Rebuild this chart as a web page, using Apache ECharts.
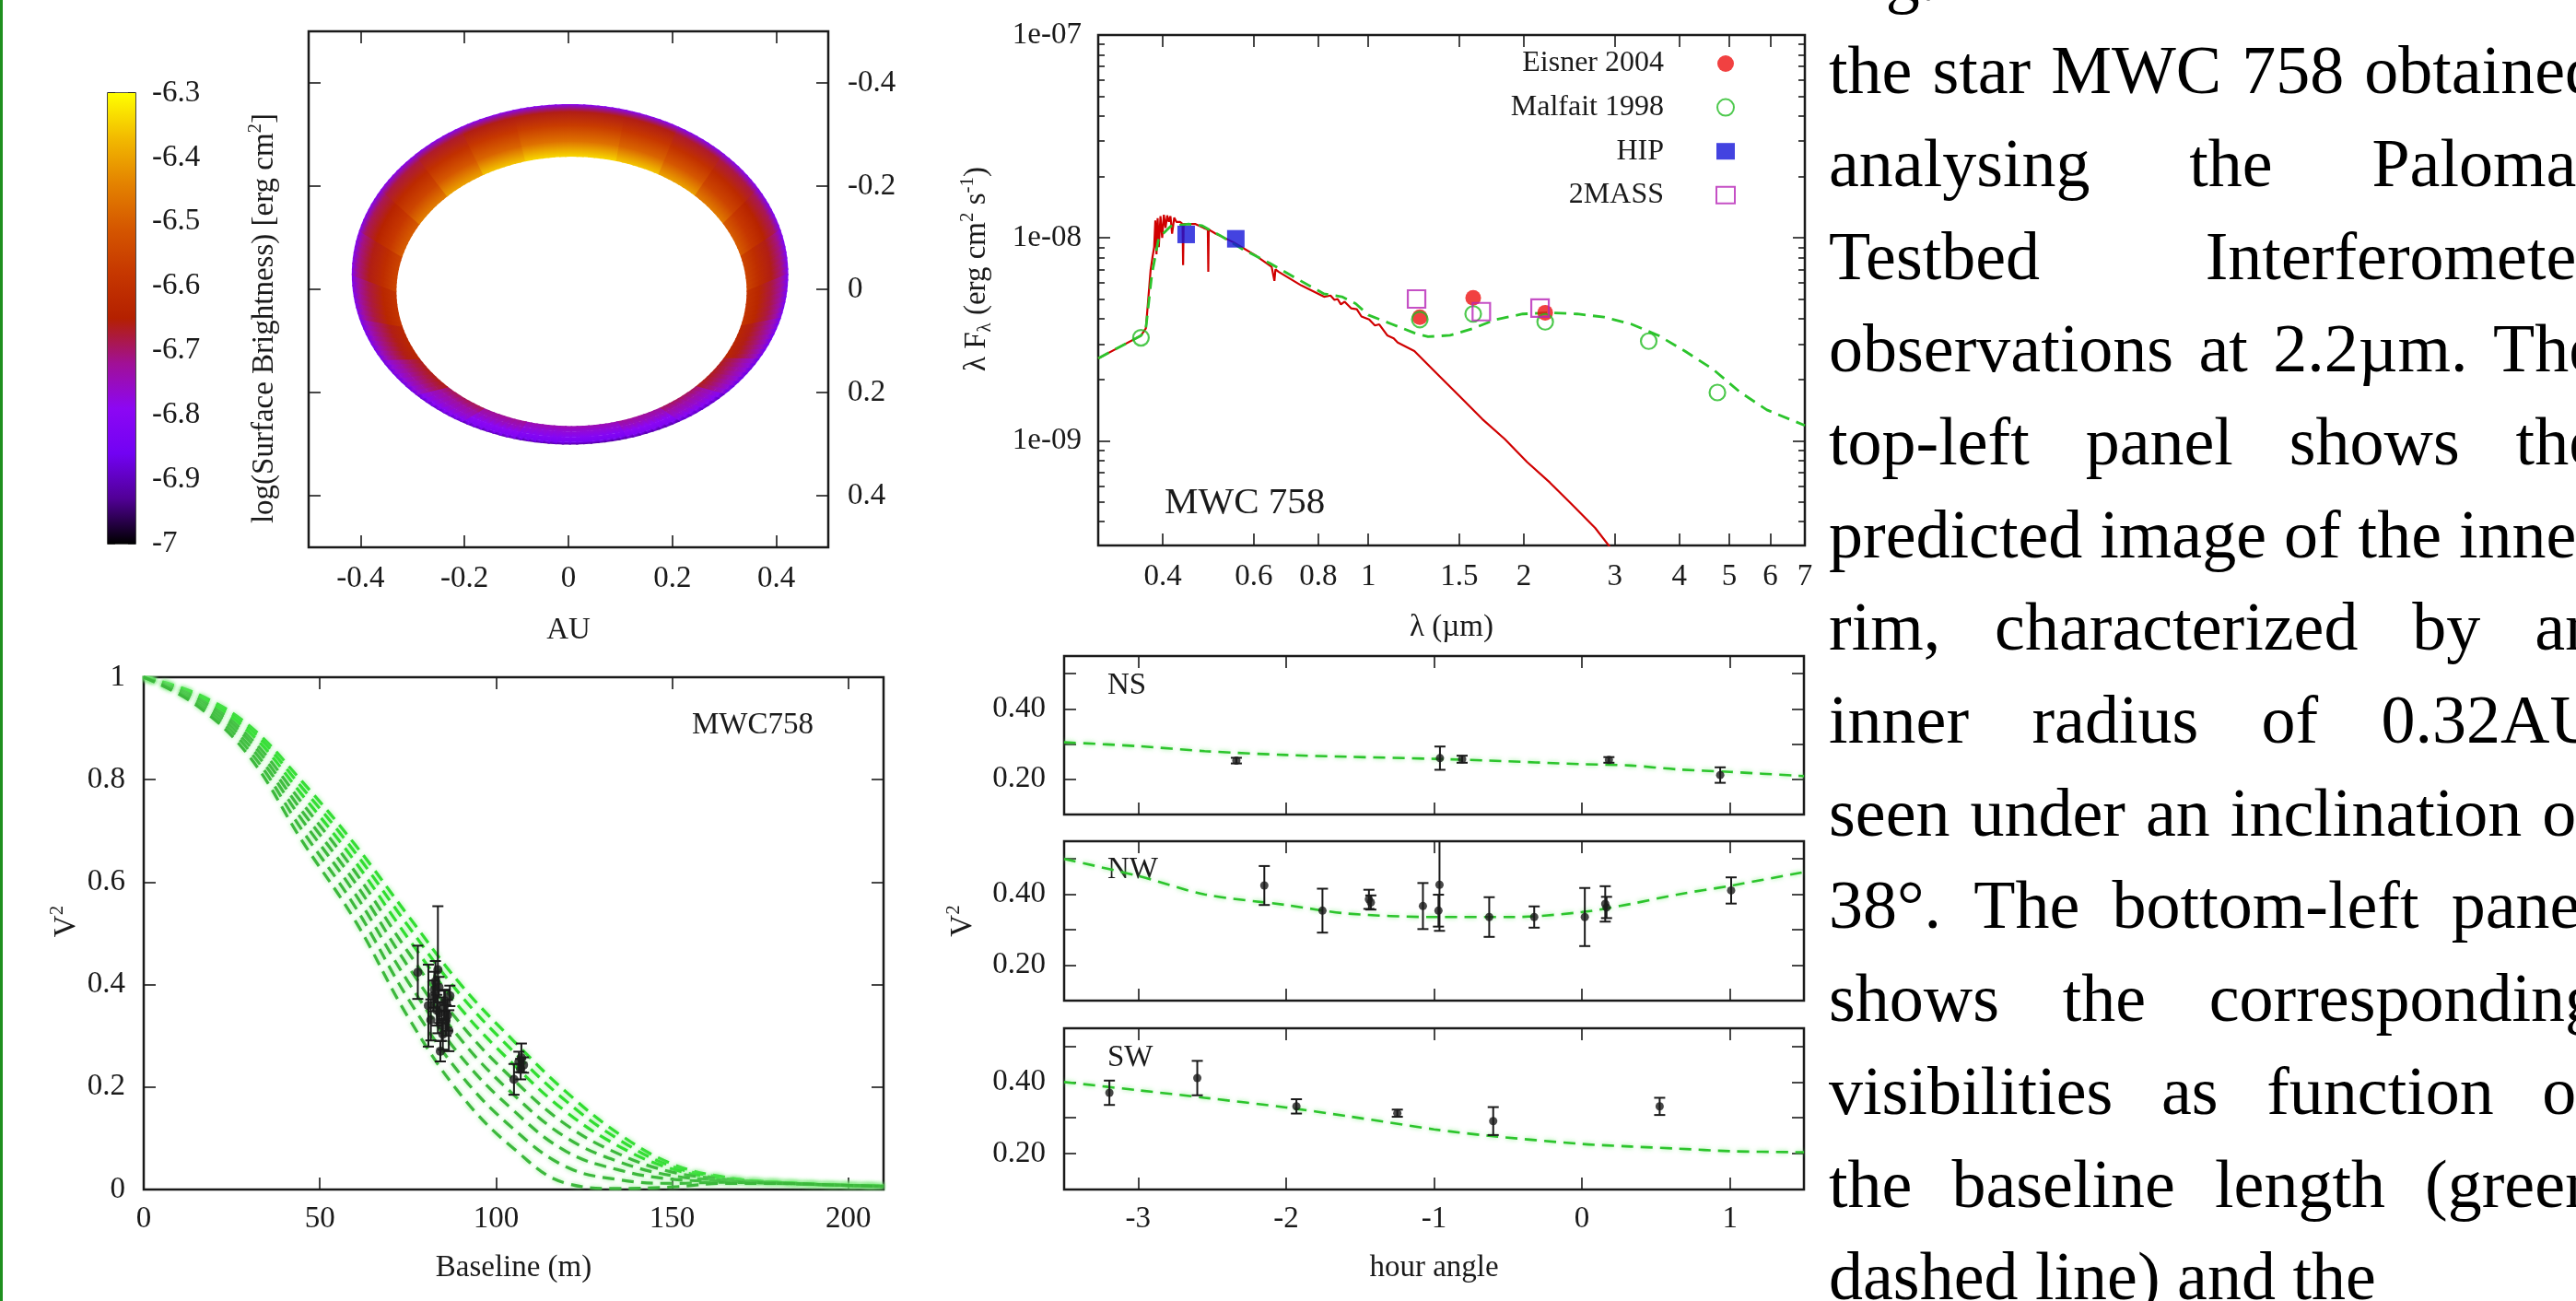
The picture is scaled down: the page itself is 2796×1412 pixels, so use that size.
<!DOCTYPE html>
<html>
<head>
<meta charset="utf-8">
<title>MWC 758 inner rim model</title>
<script src="https://cdn.jsdelivr.net/npm/echarts@6.0.0/dist/echarts.min.js"></script>
<style>
  html, body { margin: 0; padding: 0; background: #fff; }
  #chart { width: 2796px; height: 1412px; }
</style>
</head>
<body>
<div id="chart"></div>
<script>
// ---------- top-left: model image of the rim, log(surface brightness)
// sectors of 15 deg, azimuth from the top of the image, clockwise;
// five values per sector, from the inner edge (node 0) to the outer edge (node 4)
const ringPhi = [0, 15, 30, 45, 60, 75, 90, 105, 120, 135, 150, 165,
                 180, 195, 210, 225, 240, 255, 270, 285, 300, 315, 330, 345];
const ringNode0 = [-6.34, -6.36, -6.40, -6.45, -6.50, -6.55, -6.59, -6.63, -6.66, -6.69, -6.72, -6.74,
                   -6.74, -6.72, -6.69, -6.66, -6.63, -6.59, -6.55, -6.50, -6.45, -6.40, -6.36, -6.34];
const ringNode1 = [-6.47, -6.49, -6.51, -6.55, -6.58, -6.61, -6.63, -6.66, -6.69, -6.73, -6.75, -6.77,
                   -6.77, -6.75, -6.73, -6.69, -6.66, -6.63, -6.61, -6.58, -6.55, -6.51, -6.49, -6.47];
const ringNode2 = [-6.57, -6.58, -6.60, -6.62, -6.64, -6.66, -6.68, -6.70, -6.73, -6.76, -6.79, -6.81,
                   -6.81, -6.79, -6.76, -6.73, -6.70, -6.68, -6.66, -6.64, -6.62, -6.60, -6.58, -6.57];
const ringNode3 = [-6.66, -6.66, -6.67, -6.68, -6.69, -6.71, -6.73, -6.75, -6.77, -6.80, -6.82, -6.84,
                   -6.84, -6.82, -6.80, -6.77, -6.75, -6.73, -6.71, -6.69, -6.68, -6.67, -6.66, -6.66];
const ringNode4 = [-6.80, -6.80, -6.81, -6.81, -6.82, -6.82, -6.83, -6.85, -6.87, -6.89, -6.91, -6.92,
                   -6.92, -6.91, -6.89, -6.87, -6.85, -6.83, -6.82, -6.82, -6.81, -6.81, -6.80, -6.80];
const ringTicks = [-0.4, -0.2, 0, 0.2, 0.4];
const cbTicks = [-7, -6.9, -6.8, -6.7, -6.6, -6.5, -6.4, -6.3];

// ---------- top-right: SED
const starLam = [0.30, 0.33, 0.363, 0.371, 0.375, 0.379, 0.382, 0.385, 0.387, 0.389, 0.391, 0.393,
  0.396, 0.399, 0.402, 0.405, 0.408, 0.411, 0.414, 0.417, 0.421, 0.425, 0.432, 0.437, 0.438, 0.439,
  0.45, 0.463, 0.48, 0.489, 0.49, 0.491, 0.506, 0.549, 0.607, 0.65, 0.658, 0.661, 0.671, 0.742,
  0.821, 0.845, 0.86, 0.872, 0.885, 0.9, 0.926, 0.95, 0.97, 1.004, 1.03, 1.05, 1.088, 1.12, 1.14,
  1.228, 1.359, 1.502, 1.662, 1.837, 2.03, 2.246, 2.486, 2.749, 2.95];
const starFlux = [2.55e-9, 2.9e-9, 3.3e-9, 3.58e-9, 5.0e-9, 6.98e-9, 8.0e-9, 9.0e-9, 1.22e-8, 8.3e-9, 1.25e-8, 9.0e-9,
  1.28e-8, 1.0e-8, 1.3e-8, 1.12e-8, 1.29e-8, 1.2e-8, 1.28e-8, 1.05e-8, 1.26e-8, 1.2e-8, 1.2e-8, 1.17e-8, 7.35e-9, 1.17e-8,
  1.17e-8, 1.17e-8, 1.12e-8, 1.1e-8, 6.8e-9, 1.1e-8, 1.05e-8, 9.5e-9, 8.15e-9, 7.2e-9, 6.14e-9, 7.0e-9, 6.8e-9, 5.83e-9,
  5.13e-9, 5.2e-9, 4.95e-9, 5.0e-9, 4.7e-9, 4.85e-9, 4.5e-9, 4.45e-9, 4.1e-9, 3.96e-9, 3.7e-9, 3.75e-9, 3.31e-9, 3.2e-9, 3.05e-9,
  2.77e-9, 2.14e-9, 1.66e-9, 1.28e-9, 1.02e-9, 7.86e-10, 6.23e-10, 4.82e-10, 3.72e-10, 2.95e-10];
const modelLam = [0.30, 0.363, 0.371, 0.381, 0.393, 0.414, 0.449, 0.476, 0.516, 0.571, 0.645, 0.727,
  0.821, 0.889, 0.945, 1.0, 1.11, 1.228, 1.305, 1.44, 1.596, 1.764, 1.99, 2.246, 2.536, 2.86, 3.23,
  3.64, 4.1, 4.64, 5.24, 5.91, 7.0];
const modelFlux = [2.55e-9, 3.3e-9, 3.58e-9, 6.6e-9, 1.0e-8, 1.14e-8, 1.17e-8, 1.15e-8, 1.03e-8, 8.8e-9, 7.5e-9, 6.3e-9,
  5.3e-9, 5.13e-9, 4.75e-9, 4.17e-9, 3.76e-9, 3.4e-9, 3.26e-9, 3.31e-9, 3.58e-9, 3.96e-9, 4.22e-9, 4.28e-9, 4.22e-9, 4.07e-9, 3.76e-9,
  3.31e-9, 2.77e-9, 2.26e-9, 1.74e-9, 1.42e-9, 1.19e-9];
const eisnerLam = [1.258, 1.596, 2.2];
const eisnerFlux = [4.07e-9, 5.07e-9, 4.28e-9];
const malfaitLam = [0.363, 1.258, 1.596, 2.2, 3.49, 4.74];
const malfaitFlux = [3.22e-9, 3.96e-9, 4.22e-9, 3.86e-9, 3.1e-9, 1.73e-9];
const hipLam = [0.444, 0.554];
const hipFlux = [1.04e-8, 9.9e-9];
const tmassLam = [1.24, 1.655, 2.15];
const tmassFlux = [5.0e-9, 4.33e-9, 4.51e-9];
const sedXTicks = [0.4, 0.6, 0.8, 1, 1.5, 2, 3, 4, 5, 6, 7];
const sedYMajor = [1e-9, 1e-8, 1e-7];
const sedYMinor = [4e-10, 5e-10, 6e-10, 7e-10, 8e-10, 9e-10, 2e-9, 3e-9, 4e-9, 5e-9, 6e-9, 7e-9, 8e-9, 9e-9,
                   2e-8, 3e-8, 4e-8, 5e-8, 6e-8, 7e-8, 8e-8, 9e-8];

// ---------- bottom-left: V^2 against baseline (model curves, then PTI data)
const visB = [0, 15, 30, 45, 60, 75, 90, 105, 120, 135, 150, 165, 180, 195, 210];
const visModel1 = [1, .968, .905, .796, .673, .535, .400, .290, .190, .108, .050, .024, .014, .009, .007];
const visModel2 = [1, .966, .899, .784, .658, .515, .379, .269, .172, .097, .045, .023, .014, .009, .007];
const visModel3 = [1, .963, .892, .770, .640, .491, .353, .244, .151, .084, .040, .021, .014, .009, .007];
const visModel4 = [1, .960, .883, .754, .620, .464, .323, .214, .126, .069, .034, .020, .013, .009, .007];
const visModel5 = [1, .957, .875, .738, .599, .436, .293, .185, .101, .054, .027, .018, .013, .009, .006];
const visModel6 = [1, .953, .866, .721, .577, .406, .260, .154, .074, .038, .020, .016, .013, .009, .006];
const visModel7 = [1, .949, .856, .701, .552, .373, .224, .118, .044, .019, .012, .014, .012, .009, .006];
const visModel8 = [1, .945, .845, .680, .525, .337, .185, .080, .012, .002, .005, .012, .012, .009, .006];
const visObsB = [77.8, 80.8, 81.5, 82.2, 82.8, 83.2, 83.5, 83.8, 84.2, 84.6, 84.9, 85.3, 85.5, 85.8, 86.2, 86.6, 86.9, 82.5, 84.0,
                 105.1, 106.5, 107.2, 107.8, 107.0];
const visObsV2 = [0.424, 0.359, 0.331, 0.378, 0.406, 0.35, 0.429, 0.395, 0.27, 0.32, 0.303, 0.36, 0.368, 0.33, 0.34, 0.31, 0.378, 0.39, 0.345,
                  0.215, 0.249, 0.257, 0.243, 0.235];
const visObsErr = [0.052, 0.08, 0.04, 0.03, 0.04, 0.03, 0.124, 0.02, 0.02, 0.03, 0.03, 0.03, 0.02, 0.03, 0.03, 0.04, 0.02, 0.035, 0.02,
                   0.03, 0.02, 0.028, 0.015, 0.02];
const visXTicks = [0, 50, 100, 150, 200];
const visYTicks = [0, 0.2, 0.4, 0.6, 0.8, 1];

// ---------- bottom-right: V^2 against hour angle for three baselines
const nsHA = [-2.336, -0.96, -0.81, 0.182, 0.934];
const nsV2 = [0.253, 0.26, 0.257, 0.255, 0.212];
const nsErr = [0.008, 0.033, 0.01, 0.008, 0.022];
const nsModelHA = [-3.5, -3, -2.55, -2, -1.59, -1, -0.63, 0, 0.33, 0.65, 1, 1.5];
const nsModelV2 = [0.305, 0.294, 0.28, 0.269, 0.264, 0.258, 0.253, 0.243, 0.239, 0.228, 0.221, 0.209];
const nwHA = [-2.147, -1.754, -1.44, -1.427, -1.075, -0.963, -0.97, -0.627, -0.323, 0.019, 0.157, 0.166, 1.008];
const nwV2 = [0.425, 0.354, 0.386, 0.377, 0.367, 0.427, 0.354, 0.336, 0.336, 0.336, 0.373, 0.363, 0.411];
const nwErr = [0.055, 0.062, 0.027, 0.02, 0.065, 0.13, 0.045, 0.056, 0.03, 0.082, 0.05, 0.03, 0.037];
const nwModelHA = [-3.5, -3, -2.55, -2, -1.59, -1, -0.47, 0, 0.33, 0.65, 1, 1.5];
const nwModelV2 = [0.5, 0.452, 0.40, 0.37, 0.346, 0.336, 0.336, 0.35, 0.373, 0.40, 0.424, 0.463];
const swHA = [-3.194, -2.6, -1.93, -1.248, -0.60, 0.525];
const swV2 = [0.37, 0.411, 0.332, 0.313, 0.291, 0.332];
const swErr = [0.034, 0.048, 0.02, 0.01, 0.039, 0.024];
const swModelHA = [-3.5, -3, -2.55, -2, -1.59, -1, -0.63, 0, 0.33, 0.65, 1, 1.5];
const swModelV2 = [0.40, 0.377, 0.356, 0.329, 0.305, 0.268, 0.25, 0.227, 0.22, 0.214, 0.207, 0.204];
const haXTicks = [-3, -2, -1, 0, 1];
const haYTicks = [0.2, 0.3, 0.4, 0.5];
const haYLabels = [0.2, 0.4];

// ---------- caption text on the right
const captionLines = [
  'Fig.',
  'the star MWC 758 obtained',
  'analysing the Palomar',
  'Testbed Interferometer',
  'observations at 2.2\u00b5m. The',
  'top-left panel shows the',
  'predicted image of the inner',
  'rim, characterized by an',
  'inner radius of 0.32AU',
  'seen under an inclination of',
  '38\u00b0. The bottom-left panel',
  'shows the corresponding',
  'visibilities as function of',
  'the baseline length (green',
  'dashed line) and the'
];

// ---------- styling
const FONT = '"Liberation Serif", "Times New Roman", serif';
const INK = '#1a1a1a';
const GREEN = '#2cc42c';
// gnuplot default pm3d palette (black - blue - violet - red - orange - yellow)
const palette = ['#000000', '#510096', '#7202f3', '#8c07f3', '#a11096', '#b42000',
                 '#c63700', '#d55700', '#e48300', '#f2ba00', '#ffff00'];
const CB_MIN = -7, CB_MAX = -6.3;
// rim geometry in AU (inner and outer edge ellipses) and radial position of the value nodes
const rimIn = { cx: 0.006, cy: 0.004, a: 0.337, b: 0.261 };
const rimOut = { cx: 0.003, cy: -0.029, a: 0.42, b: 0.33 };
const ringNodeFrac = [0, 0.3, 0.6, 0.85, 1];

const f1 = v => String(+(+v).toFixed(1));
const f2 = v => (+v).toFixed(2);
const fmtLam = v => String(Math.round(Math.pow(10, v) * 10) / 10);
const fmtExp = v => '1e-0' + Math.round(-v);
const log10s = arr => arr.map(v => Math.log10(v));
const pairs = (xs, ys) => xs.map((x, i) => [x, ys[i]]);
const bars = (xs, ys, es) => xs.map((x, i) => [x, ys[i] - es[i], ys[i] + es[i]]);
const sbColor = v => echarts.color.lerp(Math.min(1, Math.max(0, (v - CB_MIN) / (CB_MAX - CB_MIN))), palette);

const nameStyle = {
  fontFamily: FONT, fontSize: 33, color: INK, lineHeight: 40,
  rich: {
    sup: { fontFamily: FONT, fontSize: 21, lineHeight: 21, color: INK, verticalAlign: 'top' },
    sub: { fontFamily: FONT, fontSize: 21, lineHeight: 21, color: INK, verticalAlign: 'bottom' }
  }
};

function ax(gridIndex, position, min, max, ticks, o) {
  o = o || {};
  const a = {
    type: 'value', gridIndex, position, min, max,
    inverse: !!o.inverse,
    axisLine: { show: false, onZero: false },
    axisTick: { show: true, inside: true, length: o.tickLen || 13, customValues: ticks,
                lineStyle: { color: INK, width: 1.6 } },
    axisLabel: o.labels ? {
      show: true, customValues: o.labels, formatter: o.fmt, fontFamily: FONT, fontSize: 33,
      color: INK, margin: o.margin || 18
    } : { show: false },
    splitLine: { show: false }
  };
  if (o.name) {
    Object.assign(a, { name: o.name, nameLocation: 'middle', nameGap: o.nameGap,
      nameMoveOverlap: false, nameTextStyle: Object.assign({}, nameStyle, o.namePad ? { padding: o.namePad } : {}) });
    if (o.nameRotate != null) a.nameRotate = o.nameRotate;
  }
  return a;
}

function errorBarItem(params, api) {
  const x = api.value(0);
  const lo = api.coord([x, api.value(1)]);
  const hi = api.coord([x, api.value(2)]);
  const cap = 6;
  const st = { stroke: INK, lineWidth: 2 };
  return { type: 'group', children: [
    { type: 'line', shape: { x1: lo[0], y1: lo[1], x2: hi[0], y2: hi[1] }, style: st },
    { type: 'line', shape: { x1: lo[0] - cap, y1: lo[1], x2: lo[0] + cap, y2: lo[1] }, style: st },
    { type: 'line', shape: { x1: hi[0] - cap, y1: hi[1], x2: hi[0] + cap, y2: hi[1] }, style: st }
  ]};
}

function rimPoint(phi, f) {
  const t = phi * Math.PI / 180;
  const xi = rimIn.cx + rimIn.a * Math.sin(t), yi = rimIn.cy - rimIn.b * Math.cos(t);
  const xo = rimOut.cx + rimOut.a * Math.sin(t), yo = rimOut.cy - rimOut.b * Math.cos(t);
  return [xi + (xo - xi) * f, yi + (yo - yi) * f];
}

// one data item per sector: [phiStart, phiEnd, node0 .. node4]
const ringData = ringPhi.map((p, i) => [p, p + 15, ringNode0[i], ringNode1[i], ringNode2[i], ringNode3[i], ringNode4[i]]);

function renderRimSector(params, api) {
  const p0 = api.value(0), p1 = api.value(1);
  const colors = [2, 3, 4, 5, 6].map(d => sbColor(api.value(d)));
  const n = 8;
  const children = [];
  // each sector is cut into thin slices so the radial shading follows the ellipse
  for (let s = 0; s < n; s++) {
    const qa = p0 + (p1 - p0) * s / n - 0.3, qb = p0 + (p1 - p0) * (s + 1) / n + 0.3;
    const qm = (qa + qb) / 2;
    for (let k = 0; k < 4; k++) {
      const fa = Math.max(0, ringNodeFrac[k] - 0.01), fb = Math.min(1, ringNodeFrac[k + 1] + 0.01);
      const pts = [rimPoint(qa, fa), rimPoint(qb, fa), rimPoint(qb, fb), rimPoint(qa, fb)].map(p => api.coord(p));
      const a = api.coord(rimPoint(qm, ringNodeFrac[k])), b = api.coord(rimPoint(qm, ringNodeFrac[k + 1]));
      const grad = new echarts.graphic.LinearGradient(a[0], a[1], b[0], b[1],
        [{ offset: 0, color: colors[k] }, { offset: 1, color: colors[k + 1] }], true);
      children.push({ type: 'polygon', shape: { points: pts }, style: { fill: grad, lineWidth: 0 } });
    }
  }
  return { type: 'group', children };
}

const LX0 = Math.log10(0.3), LX1 = Math.log10(7);
const LY0 = Math.log10(3.05e-10), LY1 = Math.log10(1e-7);

const grids = [
  { left: 335, top: 34, width: 564, height: 560 },    // image
  { left: 117, top: 101, width: 30, height: 489 },    // colour bar
  { left: 1192, top: 38, width: 767, height: 554 },   // SED
  { left: 156, top: 735, width: 803, height: 556 },   // V2 vs baseline
  { left: 1155, top: 712, width: 803, height: 172 },  // NS
  { left: 1155, top: 913, width: 803, height: 173 },  // NW
  { left: 1155, top: 1116, width: 803, height: 175 }  // SW
].map(g => Object.assign(g, { show: true, borderColor: INK, borderWidth: 2.5,
  backgroundColor: 'transparent', containLabel: false, outerBoundsMode: 'none' }));
grids[1].borderWidth = 1.6;

const xAxis = [
  ax(0, 'bottom', -0.5, 0.5, ringTicks, { labels: ringTicks, fmt: f1, name: 'AU', nameGap: 70 }),
  ax(0, 'top', -0.5, 0.5, ringTicks),
  { type: 'value', gridIndex: 1, min: 0, max: 1, show: false },
  { type: 'log', gridIndex: 2, logBase: 10, min: 0.3, max: 7, show: false },
  ax(2, 'bottom', LX0, LX1, log10s(sedXTicks), { labels: log10s(sedXTicks), fmt: fmtLam, name: '\u03bb (\u00b5m)', nameGap: 69 }),
  ax(2, 'top', LX0, LX1, log10s(sedXTicks)),
  ax(3, 'bottom', 0, 210, visXTicks, { labels: visXTicks, fmt: f1, name: 'Baseline (m)', nameGap: 65, margin: 16 }),
  ax(3, 'top', 0, 210, visXTicks),
  ax(4, 'bottom', -3.5, 1.5, haXTicks),
  ax(4, 'top', -3.5, 1.5, haXTicks),
  ax(5, 'bottom', -3.5, 1.5, haXTicks),
  ax(5, 'top', -3.5, 1.5, haXTicks),
  ax(6, 'bottom', -3.5, 1.5, haXTicks, { labels: haXTicks, fmt: f1, name: 'hour angle', nameGap: 65, margin: 16 }),
  ax(6, 'top', -3.5, 1.5, haXTicks)
];

const yAxis = [
  ax(0, 'left', -0.5, 0.5, ringTicks, { inverse: true }),
  ax(0, 'right', -0.5, 0.5, ringTicks, { inverse: true, labels: ringTicks, fmt: f1, margin: 21 }),
  ax(1, 'left', CB_MIN, CB_MAX, cbTicks, { tickLen: 8 }),
  ax(1, 'right', CB_MIN, CB_MAX, cbTicks, { tickLen: 8, labels: cbTicks, fmt: f1, margin: 18,
     name: 'log(Surface Brightness) [erg cm{sup|2}]', nameGap: 120, nameRotate: 90 }),
  { type: 'log', gridIndex: 2, logBase: 10, min: 3.05e-10, max: 1e-7, show: false },
  ax(2, 'left', LY0, LY1, log10s(sedYMajor), { labels: log10s(sedYMajor), fmt: fmtExp, margin: 18,
     name: '\u03bb F{sub|\u03bb} (erg cm{sup|2} s{sup|-1})', nameGap: 112, nameRotate: 90, namePad: [0, 0, 0, 46] }),
  ax(2, 'left', LY0, LY1, log10s(sedYMinor), { tickLen: 7 }),
  ax(2, 'right', LY0, LY1, log10s(sedYMajor)),
  ax(2, 'right', LY0, LY1, log10s(sedYMinor), { tickLen: 7 }),
  ax(3, 'left', 0, 1, visYTicks, { labels: visYTicks, fmt: f1, margin: 20,
     name: 'V{sup|2}', nameGap: 64, nameRotate: 90, namePad: [0, 0, 0, 26] }),
  ax(3, 'right', 0, 1, visYTicks),
  ax(4, 'left', 0.1, 0.55, haYTicks, { labels: haYLabels, fmt: f2, margin: 20 }),
  ax(4, 'right', 0.1, 0.55, haYTicks),
  ax(5, 'left', 0.1, 0.55, haYTicks, { labels: haYLabels, fmt: f2, margin: 20,
     name: 'V{sup|2}', nameGap: 90, nameRotate: 90 }),
  ax(5, 'right', 0.1, 0.55, haYTicks),
  ax(6, 'left', 0.1, 0.55, haYTicks, { labels: haYLabels, fmt: f2, margin: 20 }),
  ax(6, 'right', 0.1, 0.55, haYTicks)
];

const dashed = (color, width) => ({ color, width, type: [13, 8] });
const halo = { shadowColor: 'rgba(120,235,120,0.75)', shadowBlur: 5 };

const series = [
  { type: 'custom', name: 'rim', xAxisIndex: 0, yAxisIndex: 1, data: ringData, silent: true,
    renderItem: renderRimSector },
  {
    type: 'custom', name: 'colorbar', xAxisIndex: 2, yAxisIndex: 2, data: [[0, CB_MIN, CB_MAX]], silent: true,
    renderItem(params, api) {
      const tl = api.coord([0, api.value(2)]);
      const br = api.coord([1, api.value(1)]);
      return { type: 'rect', shape: { x: tl[0], y: tl[1], width: br[0] - tl[0], height: br[1] - tl[1] },
        style: { fill: new echarts.graphic.LinearGradient(0, 1, 0, 0,
          palette.map((c, i) => ({ offset: i / (palette.length - 1), color: c }))) } };
    }
  },
  { type: 'line', name: 'star', xAxisIndex: 3, yAxisIndex: 4, data: pairs(starLam, starFlux),
    showSymbol: false, clip: true, lineStyle: { color: '#d00000', width: 2.2 }, z: 2 },
  { type: 'line', name: 'model', xAxisIndex: 3, yAxisIndex: 4, data: pairs(modelLam, modelFlux),
    showSymbol: false, clip: true, lineStyle: dashed(GREEN, 2.8), z: 3 },
  { type: 'scatter', name: 'Eisner 2004', xAxisIndex: 3, yAxisIndex: 4, data: pairs(eisnerLam, eisnerFlux),
    symbol: 'circle', symbolSize: 17, itemStyle: { color: '#ee1111' }, z: 4 },
  { type: 'scatter', name: 'Malfait 1998', xAxisIndex: 3, yAxisIndex: 4, data: pairs(malfaitLam, malfaitFlux),
    symbol: 'circle', symbolSize: 17, itemStyle: { color: 'rgba(0,0,0,0)', borderColor: '#22bb22', borderWidth: 2.2 }, z: 5 },
  { type: 'scatter', name: 'HIP', xAxisIndex: 3, yAxisIndex: 4, data: pairs(hipLam, hipFlux),
    symbol: 'rect', symbolSize: 19, itemStyle: { color: '#1414d8' }, z: 4 },
  { type: 'scatter', name: '2MASS', xAxisIndex: 3, yAxisIndex: 4, data: pairs(tmassLam, tmassFlux),
    symbol: 'rect', symbolSize: 19, itemStyle: { color: 'rgba(0,0,0,0)', borderColor: '#b624b6', borderWidth: 2.2 }, z: 5 }
];

[visModel1, visModel2, visModel3, visModel4, visModel5, visModel6, visModel7, visModel8].forEach((m, i) => {
  series.push({ type: 'line', name: 'model ' + (i + 1), xAxisIndex: 6, yAxisIndex: 9, data: pairs(visB, m),
    smooth: 0.4, showSymbol: false, clip: true, silent: true,
    lineStyle: Object.assign(dashed(i < 3 ? '#30dd30' : '#3cb83c', 3.2), halo) });
});
series.push(
  { type: 'custom', name: 'V2 errors', xAxisIndex: 6, yAxisIndex: 9, data: bars(visObsB, visObsV2, visObsErr),
    encode: { x: 0, y: [1, 2] }, renderItem: errorBarItem, clip: true, z: 5 },
  { type: 'scatter', name: 'V2 data', xAxisIndex: 6, yAxisIndex: 9, data: pairs(visObsB, visObsV2),
    symbolSize: 10, itemStyle: { color: INK }, z: 6 }
);

[[nsModelHA, nsModelV2, nsHA, nsV2, nsErr, 8, 11],
 [nwModelHA, nwModelV2, nwHA, nwV2, nwErr, 10, 13],
 [swModelHA, swModelV2, swHA, swV2, swErr, 12, 15]].forEach(([mx, my, hx, hy, he, xi, yi]) => {
  series.push(
    { type: 'line', xAxisIndex: xi, yAxisIndex: yi, data: pairs(mx, my), smooth: 0.3, showSymbol: false,
      clip: true, silent: true, lineStyle: Object.assign(dashed(GREEN, 2.6), halo) },
    { type: 'custom', xAxisIndex: xi, yAxisIndex: yi, data: bars(hx, hy, he), encode: { x: 0, y: [1, 2] },
      renderItem: errorBarItem, clip: true, z: 5 },
    { type: 'scatter', xAxisIndex: xi, yAxisIndex: yi, data: pairs(hx, hy), symbolSize: 9,
      itemStyle: { color: INK }, z: 6 }
  );
});

// panel annotations and caption
const graphics = [
  { type: 'rect', shape: { x: 0, y: 0, width: 3, height: 1412 }, style: { fill: '#1f8f1f' }, silent: true }
];
const label = (text, x, y, size) => ({ type: 'text', x, y, silent: true,
  style: { text, fontFamily: FONT, fontSize: size, fill: INK, verticalAlign: 'middle' } });
graphics.push(
  label('MWC 758', 1264, 546, 41),
  label('MWC758', 751, 787, 33),
  label('NS', 1202, 744, 33),
  label('NW', 1202, 944, 33),
  label('SW', 1202, 1148, 33)
);

const TEXT_SIZE = 74, TEXT_LEFT = 1985, TEXT_RIGHT = 2821, TEXT_STEP = 100.7, TEXT_BASE1 = 97.3;
const measure = document.createElement('canvas').getContext('2d');
measure.font = TEXT_SIZE + 'px "Liberation Serif"';
const spaceW = measure.measureText(' ').width;
captionLines.forEach((line, i) => {
  const words = line.split(' ');
  const widths = words.map(w => measure.measureText(w).width);
  const used = widths.reduce((a, b) => a + b, 0);
  const justify = words.length > 1 && i < captionLines.length - 1;
  const gap = justify ? (TEXT_RIGHT - TEXT_LEFT - used) / (words.length - 1) : spaceW;
  const y = TEXT_BASE1 + (i - 1) * TEXT_STEP - 0.305 * TEXT_SIZE + 7;
  let x = TEXT_LEFT;
  words.forEach((w, j) => {
    graphics.push({ type: 'text', x, y, silent: true,
      style: { text: w, fontFamily: '"Liberation Serif"', fontSize: TEXT_SIZE, fill: '#000', verticalAlign: 'middle' } });
    x += widths[j] + gap;
  });
});

const chart = echarts.init(document.getElementById('chart'));
chart.setOption({
  backgroundColor: '#ffffff',
  animation: false,
  grid: grids,
  xAxis,
  yAxis,
  legend: {
    data: ['Eisner 2004', 'Malfait 1998', 'HIP', '2MASS'],
    orient: 'vertical', align: 'right', right: 907, top: 48,
    itemWidth: 20, itemHeight: 18, itemGap: 15.6, selectedMode: false,
    textStyle: { fontFamily: FONT, fontSize: 32, color: INK, lineHeight: 18, padding: [0, 52, 0, 0] }
  },
  graphic: graphics,
  series
});
</script>
</body>
</html>
